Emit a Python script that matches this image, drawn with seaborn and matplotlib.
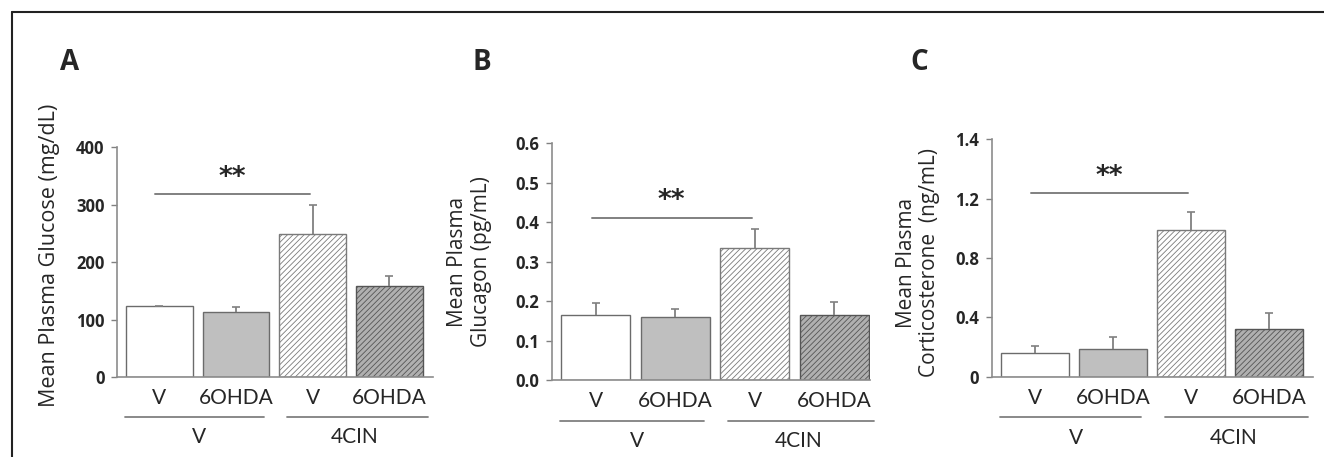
import matplotlib
matplotlib.use('Agg')
import numpy as np
import pandas as pd
import seaborn as sns
import matplotlib.pyplot as plt
import matplotlib.transforms as mtransforms
from matplotlib.lines import Line2D

# treatment under each bar, and the pre-treatment groups underneath
conditions = ['V', '6OHDA', 'V', '6OHDA']
groups = ['V', '4CIN']
bar_keys = ['V|V', 'V|6OHDA', '4CIN|V', '4CIN|6OHDA']

# panel A: glucose (mg/dL)
glucose = [123, 114, 249, 159]
glucose_err = [1, 8, 51, 17]
# panel B: glucagon (pg/mL)
glucagon = [0.165, 0.160, 0.336, 0.165]
glucagon_err = [0.031, 0.020, 0.047, 0.033]
# panel C: corticosterone (ng/mL)
cort = [0.156, 0.183, 0.987, 0.323]
cort_err = [0.051, 0.084, 0.120, 0.104]

fills = ['#ffffff', '#bfbfbf', '#ffffff', '#b0b0b0']
edges = ['#6b6b6b', '#6b6b6b', '#7a7a7a', '#555555']
hatches = [None, None, '//////', '//////']

sns.set_style('ticks')
plt.rcParams['font.family'] = ['Lato', 'DejaVu Sans']
plt.rcParams['hatch.linewidth'] = 0.6

fig = plt.figure(figsize=(13.24, 4.57), dpi=100)

panels = [
    dict(letter='A', vals=glucose, errs=glucose_err, ylabel='Mean Plasma Glucose (mg/dL)',
         ylim=(0, 400), ticks=[0, 100, 200, 300, 400], labels=['0', '100', '200', '300', '400'],
         sig=319, star=324, rect=[0.0884, 0.175, 0.2387, 0.503], xlim=(-0.55, 3.57),
         lab=(-0.18, 0.53), lsize=15.5, letter_xy=(70, 62)),
    dict(letter='B', vals=glucagon, errs=glucagon_err, ylabel='Mean Plasma\nGlucagon (pg/mL)',
         ylim=(0, 0.6), ticks=[0, 0.1, 0.2, 0.3, 0.4, 0.5, 0.6],
         labels=['0.0', '0.1', '0.2', '0.3', '0.4', '0.5', '0.6'],
         sig=0.412, star=0.420, rect=[0.4169, 0.1685, 0.2402, 0.5175], xlim=(-0.55, 3.45),
         lab=(-0.19, 0.50), lsize=15, letter_xy=(482, 62)),
    dict(letter='C', vals=cort, errs=cort_err, ylabel='Mean Plasma\nCorticosterone  (ng/mL)',
         ylim=(0, 1.6), ticks=[0, 0.4, 0.8, 1.2, 1.6], labels=['0', '0.4', '0.8', '1.2', '1.4'],
         sig=1.24, star=1.26, rect=[0.749, 0.176, 0.2425, 0.519], xlim=(-0.56, 3.56),
         lab=(-0.16, 0.48), lsize=15, letter_xy=(919, 62)),
]

for p in panels:
    ax = fig.add_axes(p['rect'])
    df = pd.DataFrame({'bar': bar_keys, 'value': p['vals']})
    sns.barplot(data=df, x='bar', y='value', hue='bar', palette=fills, legend=False,
                ax=ax, width=0.87, saturation=1, errorbar=None, linewidth=1.0)
    for patch, ec, h in zip(ax.patches, edges, hatches):
        patch.set_edgecolor(ec)
        if h:
            patch.set_hatch(h)

    eb = ax.errorbar(range(len(p['vals'])), p['vals'], yerr=[np.zeros(len(p['errs'])), p['errs']],
                     fmt='none', ecolor='#808080', elinewidth=1.3, capsize=3, capthick=1.2, zorder=3)
    eb[1][0].set_visible(False)

    ax.set_xlim(*p['xlim'])
    ax.set_ylim(*p['ylim'])
    ax.set_yticks(p['ticks'])
    ax.set_yticklabels(p['labels'], fontsize=12, fontweight='bold',
                       family=['Open Sans', 'DejaVu Sans'])
    ax.set_xticks(range(4))
    ax.set_xticklabels(conditions, fontsize=15)
    ax.tick_params(axis='x', length=0, pad=8)
    ax.tick_params(axis='y', length=4, width=1, color='#808080', pad=5)
    ax.set_xlabel('')
    ax.set_ylabel(p['ylabel'], fontsize=p['lsize'], family=['Open Sans', 'DejaVu Sans'],
                  linespacing=1.15)
    ax.yaxis.set_label_coords(*p['lab'])
    sns.despine(ax=ax)
    for s in ['left', 'bottom']:
        ax.spines[s].set_color('#8c8c8c')
        ax.spines[s].set_linewidth(1.2)

    # significance bar between V/V and 4CIN/V
    ax.plot([-0.05, 1.96], [p['sig'], p['sig']], color='#808080', lw=1.4)
    ax.text(0.95, p['star'], '**', ha='center', va='bottom', fontsize=19, fontweight='bold',
            family='DejaVu Sans')

    # group lines and labels below the treatment labels
    trans = mtransforms.blended_transform_factory(ax.transData, ax.transAxes)
    for (x0, x1), g, xc in zip([(-0.45, 1.36), (1.66, 3.5)], groups, [0.52, 2.55]):
        ax.add_line(Line2D([x0, x1], [-0.172, -0.172], transform=trans, color='#808080',
                           lw=1.3, clip_on=False))
        ax.text(xc, -0.26, g, transform=trans, ha='center', va='center', fontsize=15)

    lx, ly = p['letter_xy']
    fig.text(lx / 1324, 1 - ly / 457, p['letter'], ha='center', va='center',
             fontsize=20, fontweight='bold', family=['Open Sans', 'DejaVu Sans'])

# outer frame (left and top edges)
fig.add_artist(Line2D([12 / 1324, 12 / 1324], [0, 1 - 11.5 / 457], color='#222222', lw=1.5))
fig.add_artist(Line2D([12 / 1324, 1], [1 - 11.5 / 457, 1 - 11.5 / 457], color='#222222', lw=1.5))

fig.savefig('out.png', dpi=100, facecolor='white')
